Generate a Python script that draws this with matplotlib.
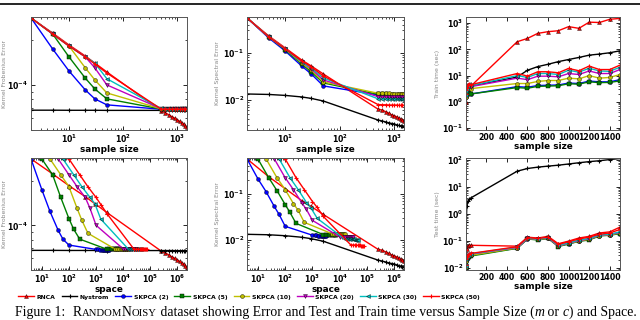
import matplotlib
matplotlib.use("Agg")
import matplotlib.pyplot as plt
from matplotlib.lines import Line2D
from matplotlib.ticker import NullFormatter, LogLocator

# ---- data ----
sample_sizes = [2, 5, 10, 20, 30, 50, 500, 600, 700, 800, 900, 1000, 1100, 1200, 1300, 1400, 1500]
skpca_ranks = [2, 5, 10, 20, 30, 50]
series_names = ["RNCA", "Nystrom", "SKPCA (2)", "SKPCA (5)", "SKPCA (10)",
                "SKPCA (20)", "SKPCA (30)", "SKPCA (50)"]

# Kernel Frobenius error (x 1e-4)
fro_rnca = [2.80, 2.22, 1.85, 1.56, 1.40, 1.22, 0.671, 0.651, 0.631, 0.612, 0.598, 0.584, 0.571, 0.558, 0.545, 0.533, 0.525]
fro_nystrom = [0.678, 0.678, 0.677, 0.677, 0.677, 0.676, 0.676, 0.676, 0.676, 0.676, 0.675, 0.675, 0.675, 0.675, 0.675, 0.675, 0.675]
fro_skpca2 = [2.80, 1.74, 1.24, 0.926, 0.807, 0.736, 0.688, 0.688, 0.687, 0.687, 0.687, 0.687, 0.686, 0.686, 0.686, 0.686, 0.686]
fro_skpca5 = [2.80, 2.19, 1.54, 1.11, 0.940, 0.807, 0.690, 0.689, 0.689, 0.689, 0.688, 0.688, 0.688, 0.688, 0.688, 0.688, 0.688]
fro_skpca10 = [2.80, 2.19, 1.82, 1.30, 1.08, 0.884, 0.692, 0.691, 0.691, 0.690, 0.690, 0.690, 0.690, 0.690, 0.689, 0.689, 0.689]
fro_skpca20 = [2.80, 2.19, 1.82, 1.54, 1.30, 1.00, 0.694, 0.693, 0.692, 0.692, 0.691, 0.691, 0.691, 0.691, 0.691, 0.690, 0.690]
fro_skpca30 = [2.80, 2.19, 1.82, 1.54, 1.40, 1.10, 0.696, 0.695, 0.694, 0.693, 0.693, 0.692, 0.692, 0.692, 0.692, 0.691, 0.691]
fro_skpca50 = [2.80, 2.19, 1.82, 1.54, 1.38, 1.20, 0.690, 0.690, 0.689, 0.689, 0.689, 0.689, 0.688, 0.688, 0.688, 0.688, 0.688]

# Kernel spectral error
spec_rnca = [0.555, 0.230, 0.128, 0.071, 0.0529, 0.0357, 0.0064, 0.0061, 0.0056, 0.0052, 0.0048, 0.0046, 0.0044, 0.0041, 0.0039, 0.0038, 0.0036]
spec_nystrom = [0.0134, 0.0131, 0.0125, 0.0116, 0.0108, 0.0095, 0.00375, 0.00357, 0.0034, 0.00324, 0.00316, 0.00309, 0.00294, 0.00287, 0.0028, 0.00273, 0.00266]
spec_skpca2 = [0.555, 0.208, 0.110, 0.0529, 0.0357, 0.0199, 0.0128, 0.0127, 0.0127, 0.0126, 0.0126, 0.0126, 0.0125, 0.0125, 0.0125, 0.0125, 0.0125]
spec_skpca5 = [0.555, 0.219, 0.116, 0.0583, 0.0394, 0.0230, 0.0132, 0.0131, 0.0131, 0.0130, 0.0130, 0.0130, 0.0130, 0.0130, 0.0129, 0.0129, 0.0129]
spec_skpca10 = [0.555, 0.219, 0.122, 0.0613, 0.0435, 0.0242, 0.0139, 0.0138, 0.0138, 0.0138, 0.0137, 0.0137, 0.0137, 0.0137, 0.0137, 0.0137, 0.0137]
spec_skpca20 = [0.555, 0.219, 0.122, 0.0644, 0.0457, 0.0266, 0.0118, 0.0117, 0.0117, 0.0116, 0.0116, 0.0116, 0.0116, 0.0116, 0.0115, 0.0115, 0.0115]
spec_skpca30 = [0.555, 0.219, 0.122, 0.0644, 0.0480, 0.0294, 0.0106, 0.0105, 0.0105, 0.0104, 0.0104, 0.0104, 0.0104, 0.0103, 0.0103, 0.0103, 0.0103]
spec_skpca50 = [0.555, 0.219, 0.122, 0.0676, 0.0504, 0.0324, 0.0080, 0.0079, 0.0079, 0.0078, 0.0078, 0.0078, 0.0078, 0.0077, 0.0077, 0.0077, 0.0077]

# Train time (sec)
train_rnca = [0.09, 1.0, 2.0, 3.0, 3.5, 4.0, 195, 260, 405, 470, 510, 730, 630, 1080, 1050, 1390, 1500]
train_nystrom = [2.0, 3.0, 3.5, 4.0, 4.5, 4.0, 8.8, 16, 22, 27, 34, 41, 49, 60, 66, 74, 88]
train_skpca2 = [1.5, 2.0, 2.5, 3.0, 4.0, 2.0, 3.8, 3.6, 4.2, 4.3, 4.4, 5.2, 5.0, 6.2, 5.8, 5.8, 7.0]
train_skpca5 = [1.5, 2.0, 2.5, 3.0, 3.5, 2.0, 3.5, 3.3, 3.9, 4.0, 4.1, 4.9, 4.7, 5.8, 5.4, 5.5, 6.3]
train_skpca10 = [1.6, 2.2, 2.8, 3.2, 4.0, 3.2, 5.0, 5.0, 6.0, 6.5, 6.5, 8.0, 7.5, 10, 8.0, 8.5, 11]
train_skpca20 = [1.7, 2.4, 3.0, 3.5, 4.2, 3.8, 8.0, 7.0, 9.5, 9.5, 9.0, 12, 11, 15, 12, 12, 17]
train_skpca30 = [1.8, 2.5, 3.2, 4.0, 4.8, 4.2, 10, 8.5, 12, 12, 11, 16, 13.5, 19, 15, 14.5, 21]
train_skpca50 = [2.0, 2.8, 3.5, 4.2, 5.0, 4.5, 12, 9.6, 14, 14, 12.8, 18.7, 15.3, 23, 17, 17, 25]

# Test time (sec)
test_rnca = [0.009, 0.03, 0.05, 0.065, 0.07, 0.07, 0.065, 0.14, 0.13, 0.15, 0.08, 0.10, 0.13, 0.15, 0.20, 0.22, 0.33]
test_nystrom = [0.02, 0.5, 2.0, 3.0, 3.5, 4.0, 39, 49, 55, 60, 65, 72, 80, 88, 95, 105, 115]
test_skpca2 = [0.010, 0.018, 0.022, 0.025, 0.027, 0.030, 0.055, 0.12, 0.115, 0.13, 0.065, 0.08, 0.10, 0.115, 0.16, 0.17, 0.19]
test_skpca5 = [0.010, 0.017, 0.021, 0.024, 0.026, 0.028, 0.054, 0.12, 0.11, 0.125, 0.063, 0.078, 0.098, 0.11, 0.155, 0.165, 0.19]
test_skpca10 = [0.011, 0.019, 0.023, 0.026, 0.028, 0.030, 0.056, 0.125, 0.115, 0.13, 0.066, 0.082, 0.10, 0.118, 0.16, 0.17, 0.20]
test_skpca20 = [0.012, 0.020, 0.024, 0.028, 0.030, 0.033, 0.058, 0.125, 0.12, 0.13, 0.067, 0.083, 0.105, 0.12, 0.165, 0.175, 0.21]
test_skpca30 = [0.012, 0.021, 0.025, 0.029, 0.031, 0.034, 0.060, 0.13, 0.12, 0.135, 0.07, 0.085, 0.11, 0.125, 0.17, 0.18, 0.22]
test_skpca50 = [0.013, 0.022, 0.026, 0.030, 0.032, 0.035, 0.062, 0.135, 0.125, 0.14, 0.075, 0.095, 0.12, 0.14, 0.18, 0.20, 0.27]

fro = [fro_rnca, fro_nystrom, fro_skpca2, fro_skpca5, fro_skpca10, fro_skpca20, fro_skpca30, fro_skpca50]
fro = [[v * 1e-4 for v in s] for s in fro]
spec = [spec_rnca, spec_nystrom, spec_skpca2, spec_skpca5, spec_skpca10, spec_skpca20, spec_skpca30, spec_skpca50]
train = [train_rnca, train_nystrom, train_skpca2, train_skpca5, train_skpca10, train_skpca20, train_skpca30, train_skpca50]
test = [test_rnca, test_nystrom, test_skpca2, test_skpca5, test_skpca10, test_skpca20, test_skpca30, test_skpca50]

# space used: m^2 for RNCA / Nystrom, m*k for SKPCA(k)
space = [[m * m for m in sample_sizes], [m * m for m in sample_sizes]]
space += [[m * k for m in sample_sizes] for k in skpca_ranks]
sizes = [sample_sizes] * len(series_names)

styles = [
    dict(color="r", marker="^"),
    dict(color="k", marker="+"),
    dict(color="b", marker="o"),
    dict(color="g", marker="s"),
    dict(color="y", marker="o"),
    dict(color="m", marker="v"),
    dict(color="c", marker="<"),
    dict(color="r", marker="+"),
]

W, H = 640, 320
fig = plt.figure(figsize=(6.4, 3.2), dpi=100)
fig.patch.set_facecolor("white")


def add_ax(x0, y0, x1, y1):
    return fig.add_axes([x0 / W, 1 - y1 / H, (x1 - x0) / W, (y1 - y0) / H])


def line_kw(st):
    if st["marker"] == "+":
        return dict(color=st["color"], marker="+", ms=3.5, mew=0.8, lw=1.0)
    return dict(color=st["color"], marker=st["marker"], ms=2.8, mec="k", mew=0.3, lw=1.0)


def draw(ax, xs, ys):
    for x, y, st in zip(xs, ys, styles):
        ax.plot(x, y, **line_kw(st))


def style_ax(ax, ylabel, xlabel, logx=True):
    ax.set_yscale("log")
    if logx:
        ax.set_xscale("log")
        ax.xaxis.set_minor_formatter(NullFormatter())
    ax.yaxis.set_minor_formatter(NullFormatter())
    ax.tick_params(which="both", direction="in", top=True, right=True,
                   labelsize=5.6, pad=2, colors="k")
    ax.tick_params(which="major", length=3, width=0.6)
    ax.tick_params(which="minor", length=1.5, width=0.5)
    for sp in ax.spines.values():
        sp.set_color("#555555")
        sp.set_linewidth(0.7)
    ax.set_ylabel(ylabel, fontsize=4.4, color="#888888")
    ax.set_xlabel(xlabel, fontsize=6.4, fontweight="bold", labelpad=0)


fro_lim = (5.0e-5, 2.84e-4)
spec_lim = (0.0023, 0.58)
time_ticks = [200, 400, 600, 800, 1000, 1200, 1400]
space_ticks = [1e1, 1e2, 1e3, 1e4, 1e5, 1e6]

# top row
ax = add_ax(31, 17, 187, 130)
draw(ax, sizes, fro)
style_ax(ax, "Kernel Frobenius Error", "sample size")
ax.set_xlim(2, 1500); ax.set_ylim(*fro_lim)
ax.yaxis.set_label_coords(-0.155, 0.5)

ax = add_ax(247, 17, 404, 130)
draw(ax, sizes, spec)
style_ax(ax, "Kernel Spectral Error", "sample size")
ax.set_xlim(2, 1500); ax.set_ylim(*spec_lim)
ax.yaxis.set_label_coords(-0.17, 0.5)

ax = add_ax(466, 17, 620, 130)
draw(ax, sizes, train)
style_ax(ax, "Train time (sec)", "sample size", logx=False)
ax.set_xlim(2, 1500); ax.set_ylim(0.085, 1700)
ax.set_xticks(time_ticks)
ax.yaxis.set_major_locator(LogLocator(base=10, numticks=10))
ax.yaxis.set_label_coords(-0.17, 0.5)

# bottom row
ax = add_ax(31, 158, 187, 270)
draw(ax, space, fro)
style_ax(ax, "Kernel Frobenius Error", "space")
ax.set_xlim(4, 2.25e6); ax.set_ylim(*fro_lim)
ax.set_xticks(space_ticks)
ax.yaxis.set_label_coords(-0.155, 0.5)

ax = add_ax(247, 158, 404, 270)
draw(ax, space, spec)
style_ax(ax, "Kernel Spectral Error", "space")
ax.set_xlim(4, 2.25e6); ax.set_ylim(*spec_lim)
ax.set_xticks(space_ticks)
ax.yaxis.set_label_coords(-0.17, 0.5)

ax = add_ax(466, 158, 620, 270)
draw(ax, sizes, test)
style_ax(ax, "Test time (sec)", "sample size", logx=False)
ax.set_xlim(2, 1500); ax.set_ylim(0.0085, 120)
ax.set_xticks(time_ticks)
ax.yaxis.set_label_coords(-0.17, 0.5)

for a in fig.axes:
    for lab in a.get_xticklabels() + a.get_yticklabels():
        lab.set_fontweight("bold")

# legend
handles = [Line2D([], [], **line_kw(st)) for st in styles]
fig.legend(handles, series_names, loc="center left", bbox_to_anchor=(14 / W, 1 - 297 / H),
           ncol=8, frameon=False, prop=dict(size=4.4, weight="bold"),
           handlelength=2.6, handletextpad=0.4, columnspacing=1.0, numpoints=1,
           borderpad=0.2)

# page header rule
fig.add_artist(Line2D([0, 1], [1 - 4 / H, 1 - 4 / H], transform=fig.transFigure,
                      color="k", lw=1.2))

# caption with small caps for the dataset name
pieces = [
    ("Figure 1:  ", 9.9, "normal"),
    ("R", 9.9, "normal"), ("ANDOM", 7.7, "normal"), ("N", 9.9, "normal"), ("OISY", 7.7, "normal"),
    (" dataset showing Error and Test and Train time versus Sample Size (", 9.9, "normal"),
    ("m", 9.9, "italic"), (" or ", 9.9, "normal"), ("c", 9.9, "italic"),
    (") and Space.", 9.9, "normal"),
]
renderer = fig.canvas.get_renderer()
texts = []
widths = []
for s, size, style in pieces:
    t = fig.text(0, 1 - 316 / H, s, fontsize=size, fontstyle=style,
                 family="Liberation Serif", va="baseline", ha="left")
    texts.append(t)
    widths.append(t.get_window_extent(renderer).width)
x = 326 - sum(widths) / 2
for t, w in zip(texts, widths):
    t.set_x(x / W)
    x += w

fig.savefig("out.png", dpi=100, facecolor="white")
